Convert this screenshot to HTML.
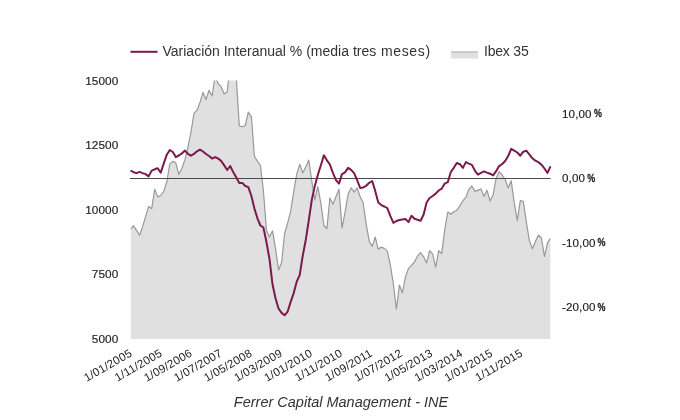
<!DOCTYPE html>
<html><head><meta charset="utf-8"><style>
html,body{margin:0;padding:0;background:#fff;width:680px;height:420px;overflow:hidden}
svg{position:absolute;left:0;top:0;will-change:transform;font-family:"Liberation Sans",sans-serif}
</style></head><body>
<svg width="680" height="420" viewBox="0 0 680 420">
<defs><clipPath id="c"><rect x="130.6" y="80.4" width="420.0" height="258.79999999999995"/></clipPath></defs>
<g clip-path="url(#c)">
<polygon points="130.6,339.2 130.5,229.5 133.5,225.7 136.5,230.3 139.6,235.2 142.6,226.7 145.6,216.6 148.6,206.4 151.7,208.6 154.7,189.3 157.7,196.9 160.7,195.5 163.7,191.5 166.8,182.0 169.8,163.9 172.8,161.4 175.8,162.9 178.8,174.6 181.9,168.3 184.9,159.7 187.9,147.1 190.9,132.6 194.0,113.4 197.0,110.2 200.0,102.4 203.0,92.4 206.0,99.6 209.1,90.3 212.1,96.0 215.1,76.0 218.1,83.5 221.1,86.7 224.2,93.9 227.2,91.7 230.2,64.0 233.2,62.0 236.3,78.0 239.3,126.0 242.3,126.7 245.3,125.5 248.3,112.2 251.4,116.8 254.4,156.3 257.4,161.1 260.4,165.4 263.4,190.7 266.5,230.4 269.5,237.1 272.5,230.7 275.5,248.4 278.6,270.0 281.6,262.5 284.6,233.5 287.6,223.2 290.6,211.7 293.7,191.8 296.7,174.4 299.7,164.3 302.7,172.9 305.8,167.0 308.8,160.0 311.8,181.1 314.8,200.0 317.8,186.6 320.9,203.4 323.9,225.5 326.9,228.6 329.9,197.9 332.9,204.3 336.0,196.5 339.0,189.3 342.0,227.9 345.0,212.6 348.1,194.1 351.1,187.9 354.1,192.1 357.1,187.9 360.1,196.5 363.2,203.1 366.2,224.1 369.2,241.2 372.2,246.4 375.2,237.1 378.3,249.3 381.3,247.1 384.3,248.4 387.3,251.1 390.4,265.4 393.4,284.3 396.4,309.3 399.4,285.0 402.4,292.9 405.5,276.7 408.5,268.4 411.5,265.4 414.5,261.9 417.6,256.0 420.6,252.6 423.6,256.8 426.6,262.9 429.6,250.7 432.7,254.2 435.7,267.1 438.7,250.7 441.7,253.6 444.7,229.9 447.8,212.1 450.8,214.3 453.8,211.8 456.8,210.2 459.9,205.9 462.9,200.8 465.9,197.2 468.9,189.3 471.9,186.0 475.0,191.4 478.0,190.1 481.0,188.9 484.0,196.4 487.0,190.3 490.1,201.0 493.1,194.9 496.1,178.4 499.1,171.4 502.2,175.0 505.2,179.5 508.2,187.9 511.2,180.7 514.2,202.7 517.3,220.7 520.3,200.7 523.3,201.4 526.3,221.6 529.3,240.4 532.4,248.8 535.4,241.4 538.4,235.0 541.4,238.0 544.5,256.4 547.5,242.9 550.5,238.3 550.6,339.2" fill="#e0e0e0"/>
<polyline points="130.5,229.5 133.5,225.7 136.5,230.3 139.6,235.2 142.6,226.7 145.6,216.6 148.6,206.4 151.7,208.6 154.7,189.3 157.7,196.9 160.7,195.5 163.7,191.5 166.8,182.0 169.8,163.9 172.8,161.4 175.8,162.9 178.8,174.6 181.9,168.3 184.9,159.7 187.9,147.1 190.9,132.6 194.0,113.4 197.0,110.2 200.0,102.4 203.0,92.4 206.0,99.6 209.1,90.3 212.1,96.0 215.1,76.0 218.1,83.5 221.1,86.7 224.2,93.9 227.2,91.7 230.2,64.0 233.2,62.0 236.3,78.0 239.3,126.0 242.3,126.7 245.3,125.5 248.3,112.2 251.4,116.8 254.4,156.3 257.4,161.1 260.4,165.4 263.4,190.7 266.5,230.4 269.5,237.1 272.5,230.7 275.5,248.4 278.6,270.0 281.6,262.5 284.6,233.5 287.6,223.2 290.6,211.7 293.7,191.8 296.7,174.4 299.7,164.3 302.7,172.9 305.8,167.0 308.8,160.0 311.8,181.1 314.8,200.0 317.8,186.6 320.9,203.4 323.9,225.5 326.9,228.6 329.9,197.9 332.9,204.3 336.0,196.5 339.0,189.3 342.0,227.9 345.0,212.6 348.1,194.1 351.1,187.9 354.1,192.1 357.1,187.9 360.1,196.5 363.2,203.1 366.2,224.1 369.2,241.2 372.2,246.4 375.2,237.1 378.3,249.3 381.3,247.1 384.3,248.4 387.3,251.1 390.4,265.4 393.4,284.3 396.4,309.3 399.4,285.0 402.4,292.9 405.5,276.7 408.5,268.4 411.5,265.4 414.5,261.9 417.6,256.0 420.6,252.6 423.6,256.8 426.6,262.9 429.6,250.7 432.7,254.2 435.7,267.1 438.7,250.7 441.7,253.6 444.7,229.9 447.8,212.1 450.8,214.3 453.8,211.8 456.8,210.2 459.9,205.9 462.9,200.8 465.9,197.2 468.9,189.3 471.9,186.0 475.0,191.4 478.0,190.1 481.0,188.9 484.0,196.4 487.0,190.3 490.1,201.0 493.1,194.9 496.1,178.4 499.1,171.4 502.2,175.0 505.2,179.5 508.2,187.9 511.2,180.7 514.2,202.7 517.3,220.7 520.3,200.7 523.3,201.4 526.3,221.6 529.3,240.4 532.4,248.8 535.4,241.4 538.4,235.0 541.4,238.0 544.5,256.4 547.5,242.9 550.5,238.3" fill="none" stroke="#999" stroke-width="1.2" stroke-linejoin="round"/>
</g>
<line x1="130" y1="178.5" x2="550.7" y2="178.5" stroke="#4a4a4a" stroke-width="1"/>
<polyline points="130.5,170.5 133.5,172.2 136.5,173.1 139.6,171.9 142.6,173.1 145.6,174.1 148.6,176.4 151.7,170.6 154.7,169.3 157.7,168.3 160.7,172.6 163.7,163.6 166.8,154.7 169.8,150.0 172.8,152.0 175.8,157.1 178.8,155.5 181.9,153.4 184.9,150.6 187.9,153.8 190.9,155.7 194.0,153.9 197.0,151.3 200.0,149.6 203.0,151.5 206.0,154.0 209.1,156.0 212.1,158.6 215.1,157.1 218.1,158.5 221.1,160.9 224.2,165.4 227.2,170.0 230.2,166.0 233.2,172.1 236.3,177.4 239.3,183.0 242.3,182.9 245.3,186.0 248.3,187.1 251.4,196.0 254.4,208.5 257.4,218.3 260.4,225.5 263.4,227.5 266.5,242.3 269.5,259.2 272.5,284.3 275.5,298.2 278.6,308.7 281.6,312.9 284.6,315.3 287.6,311.7 290.6,302.1 293.7,293.1 296.7,281.7 299.7,275.2 302.7,255.9 305.8,239.7 308.8,220.1 311.8,199.9 314.8,186.1 317.8,175.0 320.9,165.3 323.9,155.3 326.9,160.3 329.9,164.5 332.9,172.8 336.0,180.1 339.0,183.6 342.0,174.1 345.0,172.3 348.1,167.9 351.1,169.8 354.1,173.2 357.1,180.0 360.1,187.9 363.2,187.4 366.2,185.8 369.2,182.8 372.2,181.0 375.2,190.9 378.3,202.6 381.3,205.1 384.3,206.5 387.3,208.2 390.4,216.2 393.4,222.8 396.4,221.0 399.4,220.0 402.4,219.4 405.5,219.0 408.5,222.1 411.5,215.7 414.5,218.8 417.6,219.8 420.6,220.7 423.6,214.5 426.6,202.5 429.6,198.0 432.7,196.0 435.7,193.6 438.7,190.5 441.7,188.7 444.7,183.6 447.8,182.2 450.8,172.0 453.8,167.8 456.8,163.0 459.9,164.2 462.9,167.9 465.9,162.1 468.9,163.6 471.9,164.9 475.0,170.8 478.0,174.6 481.0,172.9 484.0,171.4 487.0,172.6 490.1,173.7 493.1,175.4 496.1,171.2 499.1,166.1 502.2,164.0 505.2,161.0 508.2,156.0 511.2,148.9 514.2,150.7 517.3,152.5 520.3,155.7 523.3,151.7 526.3,150.7 529.3,154.4 532.4,158.3 535.4,160.7 538.4,162.2 541.4,164.6 544.5,168.5 547.5,172.9 550.5,166.3" fill="none" stroke="#7a1a4c" stroke-width="2" stroke-linejoin="round" stroke-linecap="butt"/>
<g font-size="11.8" fill="#222" letter-spacing="0.05" stroke="#222" stroke-width="0.15">
<text x="118.3" y="84.8" text-anchor="end">15000</text>
<text x="118.3" y="149.3" text-anchor="end">12500</text>
<text x="118.3" y="213.8" text-anchor="end">10000</text>
<text x="118.3" y="278.3" text-anchor="end">7500</text>
<text x="118.3" y="342.8" text-anchor="end">5000</text>
</g>
<g font-size="11.6" fill="#222" stroke="#222" stroke-width="0.15">
<text x="562" y="117.5" letter-spacing="0.12">10,00</text><text transform="translate(593.9,117.4) scale(0.86,1)" font-weight="bold" font-size="10.4" stroke-width="0.25">%</text>
<text x="562" y="182.0" letter-spacing="0.12">0,00</text><text transform="translate(587.2,181.9) scale(0.86,1)" font-weight="bold" font-size="10.4" stroke-width="0.25">%</text>
<text x="562" y="246.5" letter-spacing="0.12">-10,00</text><text transform="translate(597.4,246.4) scale(0.86,1)" font-weight="bold" font-size="10.4" stroke-width="0.25">%</text>
<text x="562" y="310.7" letter-spacing="0.12">-20,00</text><text transform="translate(597.4,310.6) scale(0.86,1)" font-weight="bold" font-size="10.4" stroke-width="0.25">%</text>
</g>
<g font-size="11.5" fill="#222" letter-spacing="0.25">
<text x="0" y="0" transform="translate(132.90,355.4) rotate(-30)" text-anchor="end">1/01/2005</text>
<text x="0" y="0" transform="translate(162.95,355.4) rotate(-30)" text-anchor="end">1/11/2005</text>
<text x="0" y="0" transform="translate(193.00,355.4) rotate(-30)" text-anchor="end">1/09/2006</text>
<text x="0" y="0" transform="translate(223.05,355.4) rotate(-30)" text-anchor="end">1/07/2007</text>
<text x="0" y="0" transform="translate(253.10,355.4) rotate(-30)" text-anchor="end">1/05/2008</text>
<text x="0" y="0" transform="translate(283.15,355.4) rotate(-30)" text-anchor="end">1/03/2009</text>
<text x="0" y="0" transform="translate(313.20,355.4) rotate(-30)" text-anchor="end">1/01/2010</text>
<text x="0" y="0" transform="translate(343.25,355.4) rotate(-30)" text-anchor="end">1/11/2010</text>
<text x="0" y="0" transform="translate(373.30,355.4) rotate(-30)" text-anchor="end">1/09/2011</text>
<text x="0" y="0" transform="translate(403.35,355.4) rotate(-30)" text-anchor="end">1/07/2012</text>
<text x="0" y="0" transform="translate(433.40,355.4) rotate(-30)" text-anchor="end">1/05/2013</text>
<text x="0" y="0" transform="translate(463.45,355.4) rotate(-30)" text-anchor="end">1/03/2014</text>
<text x="0" y="0" transform="translate(493.50,355.4) rotate(-30)" text-anchor="end">1/01/2015</text>
<text x="0" y="0" transform="translate(523.55,355.4) rotate(-30)" text-anchor="end">1/11/2015</text>
</g>
<line x1="130.5" y1="51.8" x2="157.5" y2="51.8" stroke="#7a1a4c" stroke-width="2"/>
<text x="162.5" y="56.4" font-size="14" fill="#333">Variación Interanual % (media tres <tspan dx="0.8" letter-spacing="0.65">meses)</tspan></text>
<rect x="451" y="51.5" width="27" height="7" fill="#e0e0e0"/>
<line x1="451" y1="52" x2="478" y2="52" stroke="#b0b0b0" stroke-width="1"/>
<text x="484" y="56.4" font-size="14" fill="#333" letter-spacing="-0.2">Ibex 35</text>
<text x="341" y="407.4" font-size="14.5" font-style="italic" fill="#333" text-anchor="middle">Ferrer Capital Management - INE</text>
</svg>
</body></html>
